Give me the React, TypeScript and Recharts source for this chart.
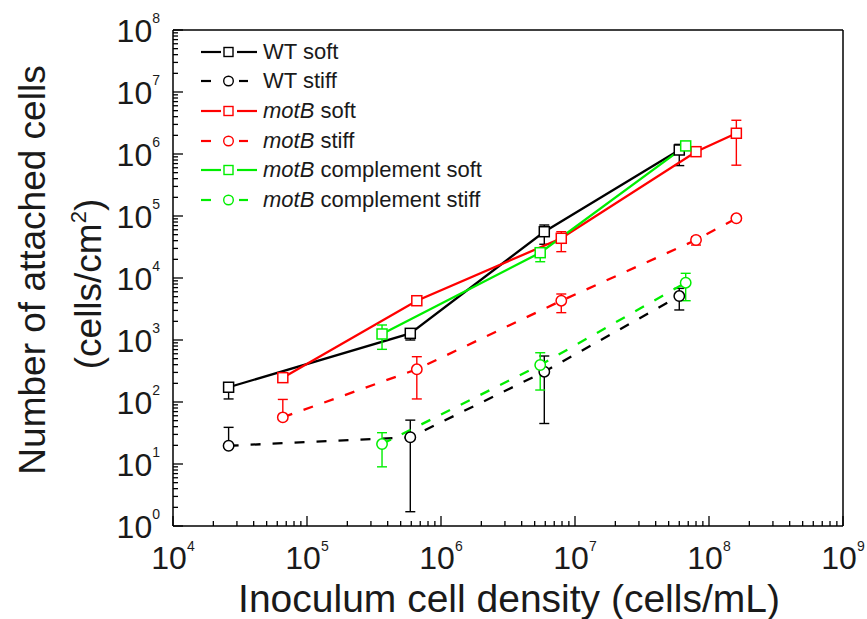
import React from 'react';
import { LineChart, Line, XAxis, YAxis, ErrorBar, ReferenceLine, Legend } from 'recharts';

const FONT = '"Liberation Sans", Arial, Helvetica, sans-serif';
const TEXT = '#1a1a1a';
const BLACK = '#000000';
const RED = '#FF0000';
const GREEN = '#00EE00';

// ---- data ----
const wtX = [2.6e4, 5.9e5, 5.9e6, 6.0e7];
const wtSoftY = [173, 1280, 55800, 1.16e6];
const wtSoftLo = [112, 1000, 35000, 6.5e5];
const wtSoftHi = [205, 1280, 71600, 1.43e6];
const wtStiffY = [19.7, 27, 308, 5120];
const wtStiffLo = [19.7, 1.7, 45, 3050];
const wtStiffHi = [39, 51, 552, 6800];

const motX = [6.6e4, 6.6e5, 7.9e6, 8.0e7, 1.6e8];
const motSoftY = [247, 4300, 43700, 1.09e6, 2.16e6];
const motSoftLo = [247, 4000, 26600, 1.0e6, 6.6e5];
const motSoftHi = [247, 4600, 55800, 1.2e6, 3.5e6];
const motStiffY = [56.6, 337, 4300, 41000, 91800];
const motStiffLo = [56.6, 112, 2760, 34000, 85000];
const motStiffHi = [110, 538, 5520, 46400, 100000];

const compX = [3.63e5, 5.5e6, 6.7e7];
const compSoftY = [1250, 25600, 1.35e6];
const compSoftLo = [707, 18300, 1.25e6];
const compSoftHi = [1746, 25600, 1.45e6];
const compStiffY = [21, 395, 8400];
const compStiffLo = [9, 156, 4300];
const compStiffHi = [32, 623, 11900];

const xDecades = [4, 5, 6, 7, 8, 9];
const yDecades = [0, 1, 2, 3, 4, 5, 6, 7, 8];
const minorMultipliers = [2, 3, 4, 5, 6, 7, 8, 9];

const legendItems = [
  { italic: '', rest: 'WT soft', color: BLACK, dashed: false, shape: 'square' },
  { italic: '', rest: 'WT stiff', color: BLACK, dashed: true, shape: 'circle' },
  { italic: 'motB', rest: ' soft', color: RED, dashed: false, shape: 'square' },
  { italic: 'motB', rest: ' stiff', color: RED, dashed: true, shape: 'circle' },
  { italic: 'motB', rest: ' complement soft', color: GREEN, dashed: false, shape: 'square' },
  { italic: 'motB', rest: ' complement stiff', color: GREEN, dashed: true, shape: 'circle' },
];

// ---- derived tables ----
const build = (xs: number[], ys: number[], lo: number[], hi: number[]) =>
  xs.map((x, i) => ({ x, y: ys[i], err: [ys[i] - lo[i], hi[i] - ys[i]] }));

const wtSoft = build(wtX, wtSoftY, wtSoftLo, wtSoftHi);
const wtStiff = build(wtX, wtStiffY, wtStiffLo, wtStiffHi);
const motSoft = build(motX, motSoftY, motSoftLo, motSoftHi);
const motStiff = build(motX, motStiffY, motStiffLo, motStiffHi);
const compSoft = build(compX, compSoftY, compSoftLo, compSoftHi);
const compStiff = build(compX, compStiffY, compStiffLo, compStiffHi);

const logTicks = (decades: number[]) => {
  const out: number[] = [];
  decades.forEach((d, i) => {
    out.push(Math.pow(10, d));
    if (i < decades.length - 1) minorMultipliers.forEach((m) => out.push(m * Math.pow(10, d)));
  });
  return out;
};
const xTicks = logTicks(xDecades);
const yTicks = logTicks(yDecades);

const isMajor = (v: number) => {
  const l = Math.log10(v);
  return Math.abs(l - Math.round(l)) < 1e-9;
};

const XTick = (props: any) => {
  const { x, y, payload } = props;
  const v = payload.value;
  const major = isMajor(v);
  return (
    <g>
      <line x1={x} x2={x} y1={y} y2={y - (major ? 10 : 5)} stroke={BLACK} strokeWidth={1.3} />
      {major && (
        <text x={x} y={y + 43} textAnchor="middle" fontFamily={FONT} fontSize={32} fill={TEXT}>
          <tspan>10</tspan>
          <tspan dy={-18} fontSize={14}>{Math.round(Math.log10(v))}</tspan>
        </text>
      )}
    </g>
  );
};

const YTick = (props: any) => {
  const { x, y, payload } = props;
  const v = payload.value;
  const major = isMajor(v);
  return (
    <g>
      <line x1={x} x2={x + (major ? 10 : 5)} y1={y} y2={y} stroke={BLACK} strokeWidth={1.3} />
      {major && (
        <text x={x - 13} y={y + 12} textAnchor="end" fontFamily={FONT} fontSize={32} fill={TEXT}>
          <tspan>10</tspan>
          <tspan dy={-19} fontSize={14}>{Math.round(Math.log10(v))}</tspan>
        </text>
      )}
    </g>
  );
};

const renderXTitle = (props: any) => {
  const vb = props.viewBox || { x: 173, y: 526, width: 670, height: 93 };
  const cx = vb.x + vb.width / 2 + 1;
  return (
    <text x={cx} y={vb.y + 86} textAnchor="middle" fontFamily={FONT} fontSize={39} fill={TEXT}>
      Inoculum cell density (cells/mL)
    </text>
  );
};

const renderYTitle = (props: any) => {
  const vb = props.viewBox || { x: 0, y: 30, width: 173, height: 496 };
  const c1 = vb.y + vb.height / 2 - 8;
  const c2 = vb.y + vb.height / 2 + 6;
  const x1 = vb.x + 45;
  const x2 = vb.x + 101;
  return (
    <g>
      <text x={x1} y={c1} transform={`rotate(-90, ${x1}, ${c1})`} textAnchor="middle" fontFamily={FONT} fontSize={37} fill={TEXT}>
        Number of attached cells
      </text>
      <text x={x2} y={c2} transform={`rotate(-90, ${x2}, ${c2})`} textAnchor="middle" fontFamily={FONT} fontSize={37} fill={TEXT}>
        <tspan>(cells/cm</tspan>
        <tspan dy={-15} fontSize={22}>2</tspan>
        <tspan dy={15}>)</tspan>
      </text>
    </g>
  );
};

const makeDot = (shape: string, color: string) => (p: any) => {
  const { cx, cy, index } = p;
  const key = `${shape}-${color}-${index}`;
  if (cx == null || cy == null) return <g key={key} />;
  if (shape === 'square')
    return <rect key={key} x={cx - 5} y={cy - 5} width={10} height={10} fill="#fff" stroke={color} strokeWidth={1.5} />;
  return <circle key={key} cx={cx} cy={cy} r={5.2} fill="#fff" stroke={color} strokeWidth={1.5} />;
};

const renderLegend = () => (
  <div style={{ fontFamily: FONT, fontSize: 22, color: TEXT }}>
    {legendItems.map((it, i) => (
      <div key={i} style={{ height: 29.6, display: 'flex', alignItems: 'center', whiteSpace: 'nowrap' }}>
        <svg width={56} height={20} style={{ display: 'block', marginRight: 6 }}>
          {it.dashed ? (
            <>
              <line x1={0} x2={10} y1={10} y2={10} stroke={it.color} strokeWidth={2.2} />
              <line x1={38} x2={47} y1={10} y2={10} stroke={it.color} strokeWidth={2.2} />
            </>
          ) : (
            <>
              <line x1={0} x2={20} y1={10} y2={10} stroke={it.color} strokeWidth={2.2} />
              <line x1={36} x2={56} y1={10} y2={10} stroke={it.color} strokeWidth={2.2} />
            </>
          )}
          {it.shape === 'square' ? (
            <rect x={23} y={5.5} width={9} height={9} fill="#fff" stroke={it.color} strokeWidth={1.4} />
          ) : (
            <circle cx={27.5} cy={10} r={4.8} fill="#fff" stroke={it.color} strokeWidth={1.4} />
          )}
        </svg>
        <span>
          {it.italic && <i>{it.italic}</i>}
          {it.rest}
        </span>
      </div>
    ))}
  </div>
);

const series = [
  { data: wtSoft, color: BLACK, dashed: false, shape: 'square', name: 'WT soft' },
  { data: wtStiff, color: BLACK, dashed: true, shape: 'circle', name: 'WT stiff' },
  { data: motSoft, color: RED, dashed: false, shape: 'square', name: 'motB soft' },
  { data: motStiff, color: RED, dashed: true, shape: 'circle', name: 'motB stiff' },
  { data: compSoft, color: GREEN, dashed: false, shape: 'square', name: 'motB complement soft' },
  { data: compStiff, color: GREEN, dashed: true, shape: 'circle', name: 'motB complement stiff' },
];

export default function App() {
  return (
    <div style={{ position: 'absolute', left: 0, top: 0, width: 867, height: 619, background: '#fff' }}>
      <LineChart width={867} height={619} margin={{ top: 30, right: 24, bottom: 0, left: 0 }}>
        <XAxis
          dataKey="x"
          type="number"
          scale="log"
          domain={[1e4, 1e9]}
          allowDataOverflow
          ticks={xTicks}
          interval={0}
          tickSize={0}
          tickMargin={0}
          tickLine={false}
          tick={<XTick />}
          axisLine={{ stroke: BLACK, strokeWidth: 1.5 }}
          height={93}
          label={renderXTitle}
        />
        <YAxis
          type="number"
          scale="log"
          domain={[1, 1e8]}
          allowDataOverflow
          ticks={yTicks}
          interval={0}
          tickSize={0}
          tickMargin={0}
          tickLine={false}
          tick={<YTick />}
          axisLine={{ stroke: BLACK, strokeWidth: 1.5 }}
          width={173}
          label={renderYTitle}
        />
        <ReferenceLine y={1e8} stroke={BLACK} strokeWidth={1.5} />
        <ReferenceLine x={1e9} stroke={BLACK} strokeWidth={1.5} />
        <Legend
          layout="vertical"
          align="center"
          verticalAlign="middle"
          content={renderLegend}
          wrapperStyle={{ left: 201, top: 37, width: 360, height: 180 }}
        />
        {series.map((s) => (
          <Line
            key={s.name}
            data={s.data}
            dataKey="y"
            name={s.name}
            type="linear"
            stroke={s.color}
            strokeWidth={2.3}
            strokeDasharray={s.dashed ? '10 12' : undefined}
            dot={makeDot(s.shape, s.color)}
            activeDot={false}
            isAnimationActive={false}
          >
            <ErrorBar dataKey="err" direction="y" width={5} stroke={s.color} strokeWidth={1.4} isAnimationActive={false} />
          </Line>
        ))}
      </LineChart>
    </div>
  );
}
